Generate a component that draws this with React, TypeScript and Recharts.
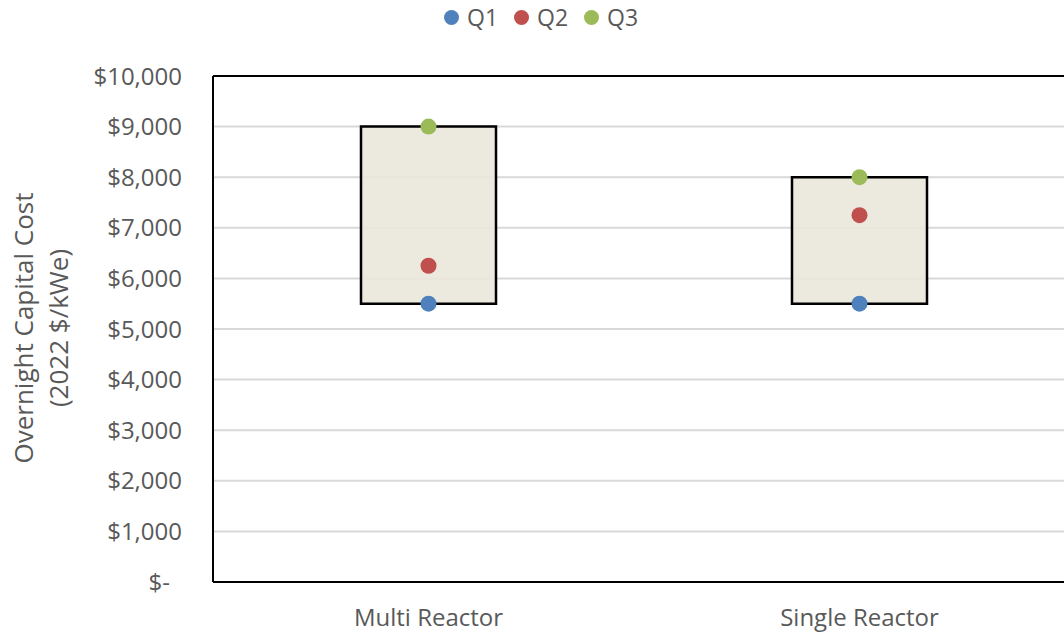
import { Bar, CartesianGrid, ComposedChart, Line, ReferenceLine, XAxis, YAxis } from 'recharts'

const TEXT = '#595959'
const GRID = '#D9D9D9'
const FONT = '"Open Sans", sans-serif'

const categories = ['Multi Reactor', 'Single Reactor']
const boxLow = [5500, 5500]
const boxHigh = [9000, 8000]
const q1 = [5500, 5500]
const q2 = [6250, 7250]
const q3 = [9000, 8000]
const yTicks = [0, 1000, 2000, 3000, 4000, 5000, 6000, 7000, 8000, 9000, 10000]

const series = [
  { key: 'q1', name: 'Q1', color: '#4F81BD' },
  { key: 'q2', name: 'Q2', color: '#C0504D' },
  { key: 'q3', name: 'Q3', color: '#9BBB59' },
]

const data = categories.map((name, i) => ({
  name,
  box: [boxLow[i], boxHigh[i]],
  q1: q1[i],
  q2: q2[i],
  q3: q3[i],
}))

function YTick({ x, y, payload }: any) {
  const v = Number(payload.value)
  const label = v === 0 ? '$-' : `$${v.toLocaleString('en-US')}`
  return (
    <text x={v === 0 ? x - 12 : x} y={y} dy="0.36em" textAnchor="end" fill={TEXT} fontSize={24} fontFamily={FONT}>
      {label}
    </text>
  )
}

function XTick({ x, y, payload }: any) {
  return (
    <text x={x} y={y} dy={42} textAnchor="middle" fill={TEXT} fontSize={24} fontFamily={FONT}>
      {payload.value}
    </text>
  )
}

// two-line rotated axis title, as in the original sheet
function YTitle() {
  return (
    <g fill={TEXT} fontSize={26} fontFamily={FONT}>
      <text x={33} y={328} textAnchor="middle" transform="rotate(-90 33 328)">
        Overnight Capital Cost
      </text>
      <text x={68} y={328} textAnchor="middle" transform="rotate(-90 68 328)">
        (2022 $/kWe)
      </text>
    </g>
  )
}

function LegendRow() {
  return (
    <div
      style={{
        position: 'absolute',
        top: 1,
        left: 444,
        display: 'flex',
        alignItems: 'center',
        gap: 16,
        fontFamily: FONT,
        fontSize: 23,
        color: TEXT,
      }}
    >
      {series.map((s) => (
        <div key={s.key} style={{ display: 'flex', alignItems: 'center', gap: 8 }}>
          <span style={{ width: 15, height: 15, borderRadius: '50%', background: s.color, display: 'inline-block' }} />
          <span>{s.name}</span>
        </div>
      ))}
    </div>
  )
}

export default function App() {
  return (
    <div
      style={{
        position: 'absolute',
        top: 0,
        left: 0,
        width: 1064,
        height: 634,
        overflow: 'hidden',
        background: '#fff',
        fontFamily: FONT,
      }}
    >
      <ComposedChart width={1090} height={634} data={data} margin={{ top: 76, right: 15, bottom: 0, left: 0 }}>
        <CartesianGrid horizontal vertical={false} stroke={GRID} strokeWidth={2} />
        <XAxis
          dataKey="name"
          height={52}
          tick={<XTick />}
          tickLine={false}
          tickSize={0}
          axisLine={{ stroke: '#000', strokeWidth: 2 }}
        />
        <YAxis
          width={213}
          domain={[0, 10000]}
          ticks={yTicks}
          interval={0}
          tick={<YTick />}
          tickLine={false}
          tickSize={0}
          tickMargin={31}
          axisLine={{ stroke: '#000', strokeWidth: 2 }}
          label={{ content: () => <YTitle /> }}
        />
        <ReferenceLine y={10000} stroke="#000" strokeWidth={2} />
        <Bar
          dataKey="box"
          barSize={135}
          fill="#EAE7DB"
          fillOpacity={0.9}
          stroke="#000"
          strokeWidth={2.5}
          isAnimationActive={false}
        />
        {series.map((s) => (
          <Line
            key={s.key}
            dataKey={s.key}
            name={s.name}
            stroke="none"
            dot={{ r: 8, fill: s.color, stroke: 'none' }}
            activeDot={false}
            isAnimationActive={false}
          />
        ))}
      </ComposedChart>
      <LegendRow />
    </div>
  )
}
